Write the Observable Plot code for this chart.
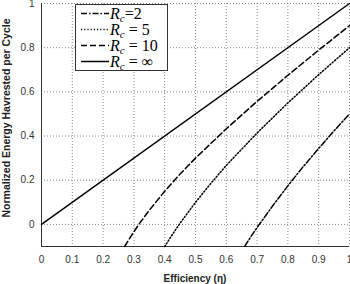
<!DOCTYPE html>
<html><head><meta charset="utf-8">
<script src="https://cdn.jsdelivr.net/npm/d3@7"></script>
<script src="https://cdn.jsdelivr.net/npm/@observablehq/plot@0.6"></script>
<style>body{margin:0;background:#fff}</style>
</head><body><div id="chart"></div>
<script>
// values
const xInf = [0, 1];
const yInf = [0, 1];
const x10 = [0.27, 0.28, 0.30, 0.32, 0.35, 0.40, 0.45, 0.50, 0.60, 0.70, 0.80, 0.90, 1.00];
const y10 = [-0.10, -0.077, -0.033, 0.008, 0.064, 0.15, 0.228, 0.30, 0.433, 0.557, 0.675, 0.789, 0.90];
const x5 = [0.40, 0.42, 0.45, 0.50, 0.55, 0.60, 0.70, 0.80, 0.90, 1.00];
const y5 = [-0.10, -0.056, 0.006, 0.10, 0.186, 0.267, 0.414, 0.55, 0.678, 0.80];
const x2 = [0.66, 0.68, 0.70, 0.75, 0.80, 0.85, 0.90, 0.95, 1.00];
const y2 = [-0.098, -0.055, -0.014, 0.083, 0.175, 0.262, 0.344, 0.424, 0.50];
const xTicks = [0, 0.1, 0.2, 0.3, 0.4, 0.5, 0.6, 0.7, 0.8, 0.9, 1];
const yTicks = [0, 0.2, 0.4, 0.6, 0.8, 1];
const series = [
  {name: "2", eq: "=2", xs: x2, ys: y2, dash: "6,2,1.5,2"},
  {name: "5", eq: " = 5", xs: x5, ys: y5, dash: "1.2,2"},
  {name: "10", eq: " = 10", xs: x10, ys: y10, dash: "6,3"},
  {name: "∞", eq: " = ∞", xs: xInf, ys: yInf, dash: null}
];
const toPts = s => s.xs.map((x, i) => ({x, y: s.ys[i]}));

const marks = [
  Plot.gridX(xTicks, {stroke: "#888", strokeOpacity: 1, strokeDasharray: "1,2", strokeWidth: 1}),
  Plot.gridY(yTicks, {stroke: "#888", strokeOpacity: 1, strokeDasharray: "1,2", strokeWidth: 1}),
  Plot.ruleX([0], {stroke: "#333"}),
  Plot.ruleY([-0.1], {stroke: "#333"}),
  Plot.axisX({ticks: xTicks, tickFormat: d => String(d), tickSize: 0, tickPadding: 9, fill: "#333", label: null}),
  Plot.axisY({ticks: yTicks, tickFormat: d => String(d), tickSize: 0, tickPadding: 7, fill: "#333", label: null}),
  ...series.map(s => Plot.line(toPts(s), {x: "x", y: "y", stroke: "#000", strokeWidth: 1.5, strokeDasharray: s.dash}))
];

const plot = Plot.plot({
  width: 350, height: 284,
  marginLeft: 41, marginRight: 1, marginTop: 3, marginBottom: 38,
  style: {fontFamily: "Liberation Sans, Arial, sans-serif", fontSize: "10px", background: "#fff"},
  x: {domain: [0, 1]},
  y: {domain: [-0.1, 1]},
  marks
});

const svg = d3.select(plot);
// axis titles
svg.append("text").attr("x", 195).attr("y", 282).attr("text-anchor", "middle")
  .attr("font-size", 10).attr("font-weight", "bold").attr("fill", "#222").text("Efficiency (η)");
svg.append("text").attr("transform", "translate(10,118) rotate(-90)").attr("text-anchor", "middle")
  .attr("font-size", 10.5).attr("font-weight", "bold").attr("fill", "#222").text("Normalized Energy Havrested per Cycle");
// legend
const lg = svg.append("g");
lg.append("rect").attr("x", 75.5).attr("y", 4.5).attr("width", 92).attr("height", 66)
  .attr("fill", "#fff").attr("stroke", "#333").attr("stroke-width", 1);
series.forEach((s, i) => {
  const yy = 13.5 + i * 16;
  lg.append("line").attr("x1", 81).attr("x2", 109).attr("y1", yy).attr("y2", yy)
    .attr("stroke", "#000").attr("stroke-width", 1.5).attr("stroke-dasharray", s.dash);
  const t = lg.append("text").attr("x", 110).attr("y", yy + 5).attr("text-anchor", "start")
    .attr("font-family", "Liberation Serif, serif").attr("font-size", 16).attr("fill", "#000");
  t.append("tspan").attr("font-style", "italic").text("R");
  t.append("tspan").attr("font-style", "italic").attr("font-size", 11).attr("dy", 3).text("c");
  t.append("tspan").attr("dy", -3).text(s.eq);
});
document.getElementById("chart").append(plot);
</script></body></html>
